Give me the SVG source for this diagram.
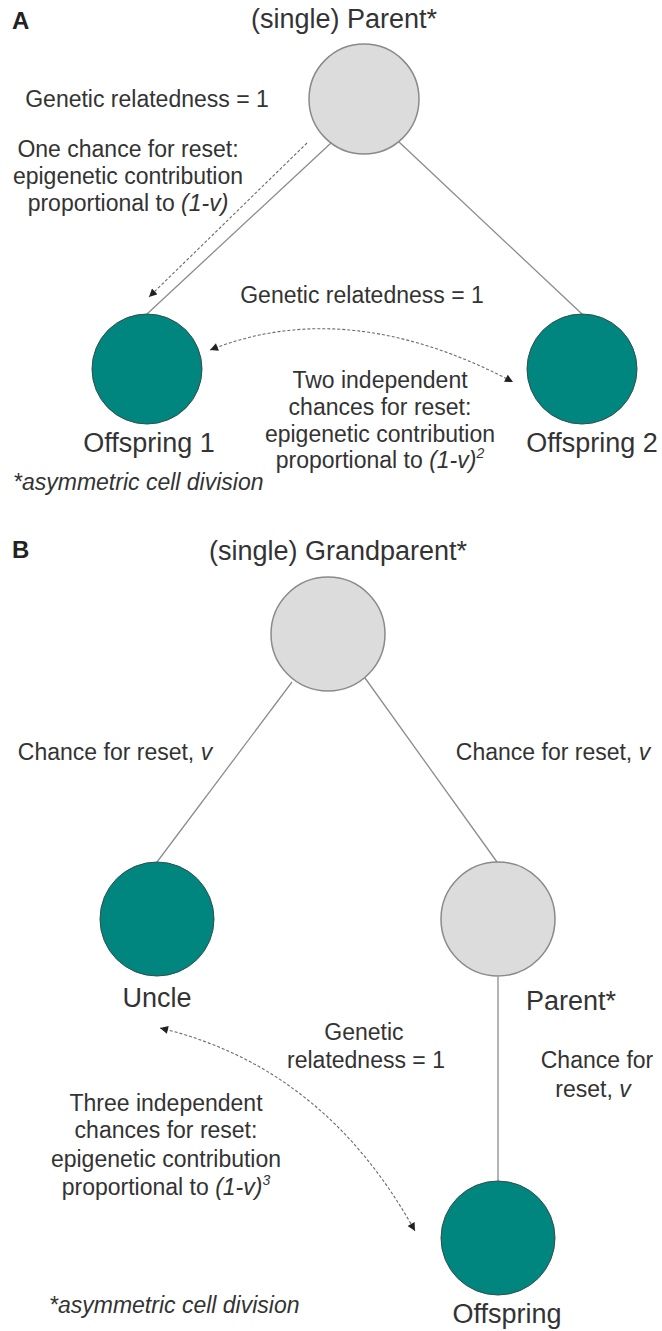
<svg xmlns="http://www.w3.org/2000/svg" width="662" height="1331" viewBox="0 0 662 1331">
<defs>
<style>
text{font-family:"Liberation Sans",Arial,sans-serif;fill:#333;}
.lbl{font-size:23px;text-anchor:middle;}
.node-lbl{font-size:27px;text-anchor:middle;}
.panel{font-size:24px;font-weight:bold;fill:#222;}
.it{font-style:italic;}
.sup{font-size:14px;font-style:italic;}
.gray{fill:#dcdcdc;stroke:#8a8a8a;stroke-width:1.5;}
.teal{fill:#00857f;stroke:#2f4f4d;stroke-width:1;}
.edge{stroke:#8c8c8c;stroke-width:1.3;fill:none;}
.dash{stroke:#6a6a6a;stroke-width:1.1;fill:none;stroke-dasharray:3 2;}
</style>
<marker id="arr" viewBox="0 0 10 10" refX="10" refY="5" markerWidth="9" markerHeight="8" markerUnits="userSpaceOnUse" orient="auto-start-reverse">
<path d="M0,0 L10,5 L0,10 z" fill="#222"/>
</marker>
</defs>

<g id="connectors">
<line class="edge" x1="331" y1="143" x2="147" y2="314"/>
<line class="edge" x1="399" y1="142" x2="582" y2="314"/>
<line class="dash" x1="307" y1="143" x2="149" y2="297" marker-end="url(#arr)"/>
<path class="dash" d="M210,350 Q348,295 513,382" marker-start="url(#arr)" marker-end="url(#arr)"/>
<line class="edge" x1="292" y1="682" x2="157" y2="862"/>
<line class="edge" x1="365" y1="678" x2="497" y2="862"/>
<line class="edge" x1="498" y1="977" x2="498" y2="1181"/>
<path class="dash" d="M160,1028 Q324,1067 415,1231" marker-start="url(#arr)" marker-end="url(#arr)"/>
</g>

<g id="panelA">
<text class="panel" x="12" y="29">A</text>
<text class="lbl" x="147" y="107">Genetic relatedness = 1</text>
<text class="lbl" x="128" y="157">One chance for reset:</text>
<text class="lbl" x="128" y="184">epigenetic contribution</text>
<text class="lbl" x="128" y="211">proportional to <tspan class="it">(1-v)</tspan></text>
<text class="lbl" x="362" y="303">Genetic relatedness = 1</text>
<text class="lbl" x="380" y="388">Two independent</text>
<text class="lbl" x="380" y="415">chances for reset:</text>
<text class="lbl" x="380" y="442">epigenetic contribution</text>
<text class="lbl" x="380" y="468">proportional to <tspan class="it">(1-v)</tspan><tspan class="sup" dy="-10">2</tspan></text>
<text class="it" x="13" y="490" font-size="23">*asymmetric cell division</text>
</g>

<g id="node-parentA">
<text class="node-lbl" x="344" y="28">(single) Parent*</text>
<circle class="gray" cx="364" cy="99" r="55"/>
</g>
<g id="node-offspring1">
<circle class="teal" cx="147" cy="369" r="55"/>
<text class="node-lbl" x="149" y="452">Offspring 1</text>
</g>
<g id="node-offspring2">
<circle class="teal" cx="582" cy="369" r="55"/>
<text class="node-lbl" x="592" y="452">Offspring 2</text>
</g>

<g id="panelB">
<text class="panel" x="12" y="558">B</text>
<text class="lbl" x="115" y="760">Chance for reset, <tspan class="it">v</tspan></text>
<text class="lbl" x="553" y="760">Chance for reset, <tspan class="it">v</tspan></text>
<text class="lbl" x="364" y="1040">Genetic</text>
<text class="lbl" x="366" y="1068">relatedness = 1</text>
<text class="lbl" x="597" y="1068">Chance for</text>
<text class="lbl" x="593" y="1097">reset, <tspan class="it">v</tspan></text>
<text class="lbl" x="166" y="1111">Three independent</text>
<text class="lbl" x="166" y="1138">chances for reset:</text>
<text class="lbl" x="166" y="1167">epigenetic contribution</text>
<text class="lbl" x="166" y="1195">proportional to <tspan class="it">(1-v)</tspan><tspan class="sup" dy="-10">3</tspan></text>
<text class="it" x="49" y="1313" font-size="23">*asymmetric cell division</text>
</g>

<g id="node-grandparent">
<text class="node-lbl" x="338" y="560">(single) Grandparent*</text>
<circle class="gray" cx="328" cy="634" r="57"/>
</g>
<g id="node-uncle">
<circle class="teal" cx="157" cy="919" r="57"/>
<text class="node-lbl" x="157" y="1007">Uncle</text>
</g>
<g id="node-parentB">
<circle class="gray" cx="498" cy="919" r="57"/>
<text class="node-lbl" x="571" y="1010">Parent*</text>
</g>
<g id="node-offspringB">
<circle class="teal" cx="498" cy="1238" r="57"/>
<text class="node-lbl" x="507" y="1323">Offspring</text>
</g>
</svg>
